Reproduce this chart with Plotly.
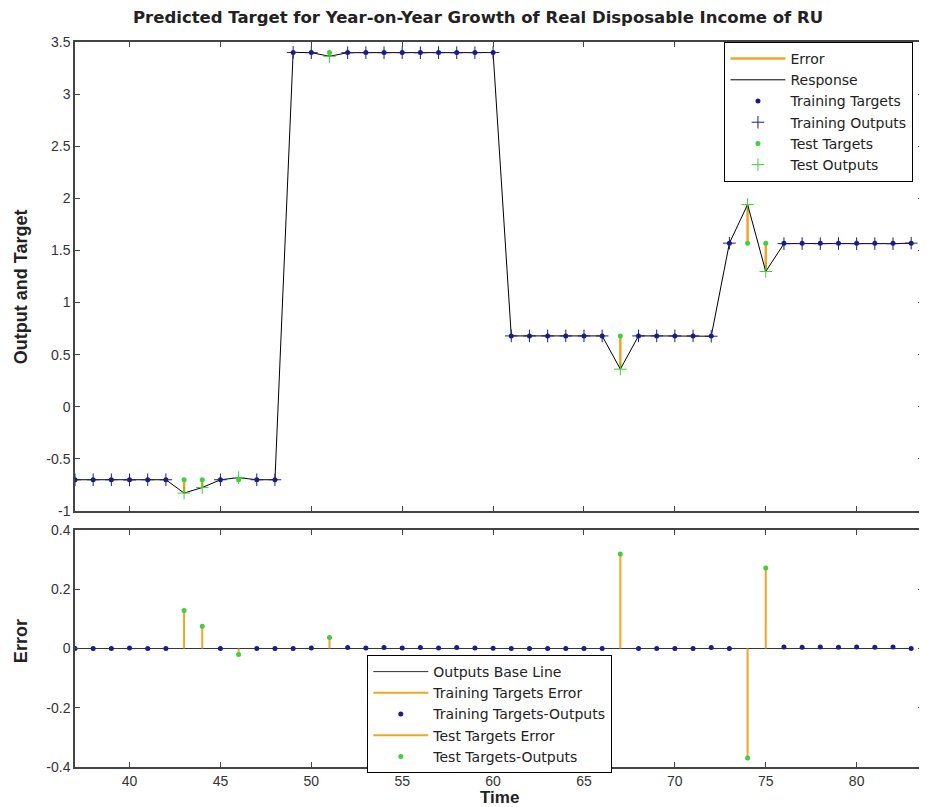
import numpy as np
import plotly.graph_objects as go

# time steps and series
time = list(range(37, 84))
targets = [-0.70] * 12 + [3.40] * 12 + [0.68] * 12 + [1.57] * 11
outputs = [
    -0.700, -0.700, -0.700, -0.702, -0.700, -0.700, -0.828, -0.775, -0.700, -0.680, -0.700, -0.700,
    3.400, 3.398, 3.363, 3.397, 3.398, 3.397, 3.398, 3.397, 3.398, 3.397, 3.398, 3.399,
    0.680, 0.680, 0.680, 0.680, 0.680, 0.680, 0.361, 0.680, 0.680, 0.680, 0.680, 0.677,
    1.570, 1.940, 1.298, 1.565, 1.566, 1.565, 1.566, 1.565, 1.566, 1.565, 1.570,
]
test_times = [43, 44, 46, 51, 67, 74, 75]

x_ticks = [40, 45, 50, 55, 60, 65, 70, 75, 80]
top_ticks = [-1, -0.5, 0, 0.5, 1, 1.5, 2, 2.5, 3, 3.5]
top_labels = ["-1", "-0.5", "0", "0.5", "1", "1.5", "2", "2.5", "3", "3.5"]
bottom_ticks = [-0.4, -0.2, 0, 0.2, 0.4]
bottom_labels = ["-0.4", "-0.2", "0", "0.2", "0.4"]

title = "Predicted Target for Year-on-Year Growth of Real Disposable Income of RU"

t = np.array(time)
tg = np.array(targets)
out = np.array(outputs)
err = tg - out
is_test = np.isin(t, test_times)
is_train = ~is_test

orange = "#f3a423"
navy = "#1d1d88"
green = "#3fcf3f"
font = "Liberation Sans"
legend_font = "DejaVu Sans"


def stems(xs, y0, y1):
    xx, yy = [], []
    for a, b, c in zip(xs, y0, y1):
        xx += [a, a, None]
        yy += [b, c, None]
    return xx, yy


# page puts the figure at (8, 8); plot area spans x 75..925, y 42..767 in window pixels
def paper(x, y):
    return (x - 75) / 850, (767 - y) / 725


fig = go.Figure()

# top panel
ex, ey = stems(t, tg, out)
fig.add_trace(go.Scatter(x=ex, y=ey, mode="lines", name="Error",
                         line=dict(color=orange, width=2.5), xaxis="x2", yaxis="y2"))
fig.add_trace(go.Scatter(x=t, y=out, mode="lines", name="Response",
                         line=dict(color="black", width=1), xaxis="x2", yaxis="y2"))
fig.add_trace(go.Scatter(x=t[is_train], y=tg[is_train], mode="markers", name="Training Targets",
                         marker=dict(color=navy, size=5), xaxis="x2", yaxis="y2"))
fig.add_trace(go.Scatter(x=t[is_train], y=out[is_train], mode="markers", name="Training Outputs",
                         marker=dict(symbol="cross-thin", size=9, line=dict(color=navy, width=1)),
                         xaxis="x2", yaxis="y2"))
fig.add_trace(go.Scatter(x=t[is_test], y=tg[is_test], mode="markers", name="Test Targets",
                         marker=dict(color=green, size=5), xaxis="x2", yaxis="y2"))
fig.add_trace(go.Scatter(x=t[is_test], y=out[is_test], mode="markers", name="Test Outputs",
                         marker=dict(symbol="cross-thin", size=9, line=dict(color=green, width=1)),
                         xaxis="x2", yaxis="y2"))

# bottom panel
fig.add_trace(go.Scatter(x=[time[0], time[-1]], y=[0, 0], mode="lines", name="Outputs Base Line",
                         line=dict(color="#333333", width=1), legend="legend2"))
sx, sy = stems(t[is_train], np.zeros(is_train.sum()), err[is_train])
fig.add_trace(go.Scatter(x=sx, y=sy, mode="lines", name="Training Targets Error",
                         line=dict(color=orange, width=2), legend="legend2"))
fig.add_trace(go.Scatter(x=t[is_train], y=err[is_train], mode="markers", name="Training Targets-Outputs",
                         marker=dict(color=navy, size=5), legend="legend2"))
sx, sy = stems(t[is_test], np.zeros(is_test.sum()), err[is_test])
fig.add_trace(go.Scatter(x=sx, y=sy, mode="lines", name="Test Targets Error",
                         line=dict(color=orange, width=2), legend="legend2"))
fig.add_trace(go.Scatter(x=t[is_test], y=err[is_test], mode="markers", name="Test Targets-Outputs",
                         marker=dict(color=green, size=5), legend="legend2"))

axis_common = dict(showgrid=False, zeroline=False, showline=True, linecolor="#444444", linewidth=1.5,
                   mirror="ticks", ticks="inside", ticklen=5, tickcolor="#444444",
                   tickfont=dict(family=font, size=14, color="#333333"))

lx1, ly1 = paper(726, 42)
lx2, ly2 = paper(368, 655)
legend_common = dict(xanchor="left", yanchor="top", bgcolor="white", bordercolor="black",
                     borderwidth=1, itemwidth=55,
                     font=dict(family=legend_font, size=14, color="#222222"))


def label(text, x, y, size, angle=0):
    px, py = paper(x, y)
    return dict(text="<b>" + text + "</b>", x=px, y=py, xref="paper", yref="paper",
                xanchor="center", yanchor="middle", textangle=angle, showarrow=False,
                font=dict(family=font, size=size, color="#222222"))


fig.update_layout(
    width=919, height=799,
    margin=dict(l=67, r=2, t=34, b=40),
    paper_bgcolor="white", plot_bgcolor="white",
    showlegend=True,
    xaxis=dict(range=[37, 83.65], tickvals=x_ticks, anchor="y", ticklabelstandoff=0, **axis_common),
    yaxis=dict(range=[-0.4, 0.4], tickvals=bottom_ticks, ticktext=bottom_labels,
               domain=[0, 0.3269], anchor="x", **axis_common),
    xaxis2=dict(range=[37, 83.65], tickvals=x_ticks, showticklabels=False, anchor="y2",
                matches="x", **axis_common),
    yaxis2=dict(range=[-1, 3.5], tickvals=top_ticks, ticktext=top_labels,
                domain=[0.3531, 1], anchor="x2", **axis_common),
    legend=dict(x=lx1, y=ly1, **legend_common),
    legend2=dict(x=lx2, y=ly2, **legend_common),
    annotations=[
        dict(label(title, 479, 18, 16), font=dict(family=legend_font, size=16.5, color="#222222")),
        label("Output and Target", 21, 287, 18, -90),
        label("Error", 21, 641, 18, -90),
        label("Time", 500, 798, 17),
    ],
)

fig.write_html("out.html")
